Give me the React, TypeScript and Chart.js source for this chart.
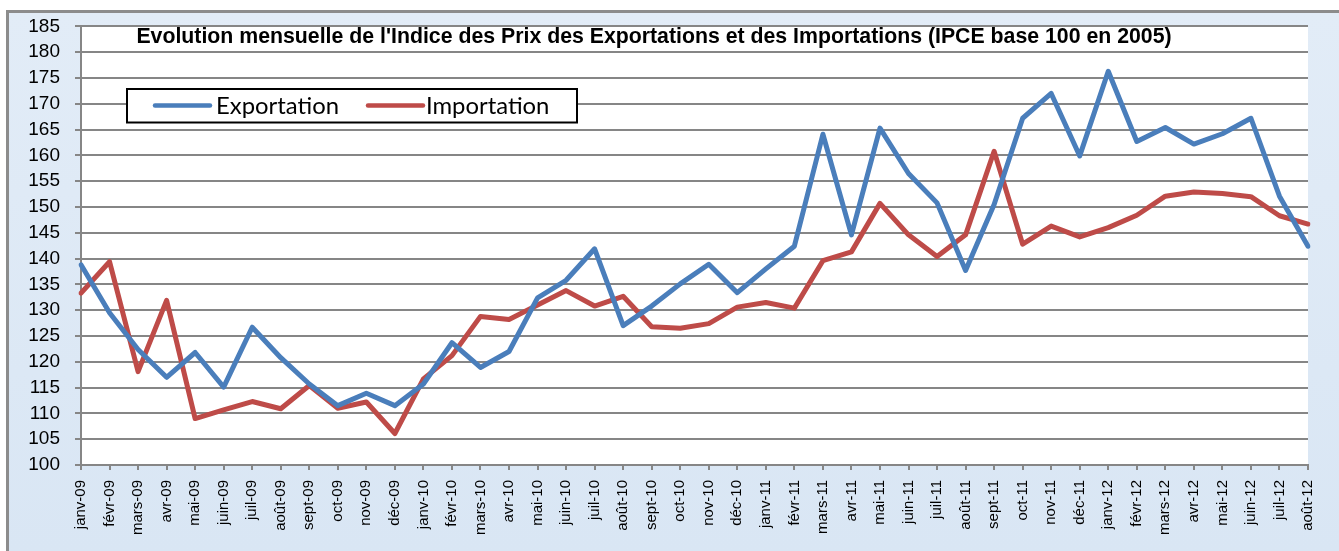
import React, { useEffect, useRef } from 'react';
import { Chart, registerables } from 'chart.js';

Chart.register(...registerables);

const categories = [
  'janv-09', 'févr-09', 'mars-09', 'avr-09', 'mai-09', 'juin-09', 'juil-09', 'août-09', 'sept-09', 'oct-09', 'nov-09', 'déc-09',
  'janv-10', 'févr-10', 'mars-10', 'avr-10', 'mai-10', 'juin-10', 'juil-10', 'août-10', 'sept-10', 'oct-10', 'nov-10', 'déc-10',
  'janv-11', 'févr-11', 'mars-11', 'avr-11', 'mai-11', 'juin-11', 'juil-11', 'août-11', 'sept-11', 'oct-11', 'nov-11', 'déc-11',
  'janv-12', 'févr-12', 'mars-12', 'avr-12', 'mai-12', 'juin-12', 'juil-12', 'août-12',
];

const exportation = [
  138.8, 129.5, 122.4, 117.0, 121.8, 115.1, 126.7, 120.8, 115.7, 111.5, 113.9, 111.5,
  115.7, 123.7, 118.9, 122.0, 132.4, 135.8, 141.9, 127.0, 130.8, 135.1, 138.9, 133.4,
  138.0, 142.4, 164.1, 144.6, 165.3, 156.5, 150.8, 137.7, 150.5, 167.2, 172.0, 159.9,
  176.3, 162.7, 165.4, 162.2, 164.2, 167.2, 152.1, 142.4,
];

const importation = [
  133.3, 139.4, 118.1, 131.9, 109.0, 110.7, 112.3, 110.9, 115.4, 111.0, 112.2, 106.1,
  116.7, 121.2, 128.8, 128.2, 131.0, 133.8, 130.8, 132.7, 126.8, 126.5, 127.4, 130.6,
  131.5, 130.4, 139.6, 141.3, 150.7, 144.6, 140.4, 144.6, 160.8, 142.8, 146.3, 144.2,
  146.0, 148.4, 152.1, 152.9, 152.6, 152.0, 148.3, 146.7,
];

const seriesNames = ['Exportation', 'Importation'];
const seriesColors = ['#4a7ebb', '#be4b48'];
const titleText = "Evolution mensuelle de l'Indice des Prix des Exportations et des Importations (IPCE base 100 en 2005)";

const W = 1339;
const H = 551;
const GRID = '#868686';

function fitSize(ctx: CanvasRenderingContext2D, text: string, weight: string, family: string, target: number) {
  ctx.font = `${weight} 100px ${family}`;
  const w = ctx.measureText(text).width;
  return (100 * target) / w;
}

const backgroundPlugin = {
  id: 'bgPlugin',
  beforeDraw(chart: any) {
    const { ctx, chartArea } = chart;
    ctx.save();
    ctx.fillStyle = '#ffffff';
    ctx.fillRect(0, 0, W, H);
    ctx.fillStyle = '#8c8c8c';
    ctx.fillRect(6, 10, W - 6, H - 10);
    const g = ctx.createLinearGradient(0, 13, 0, H);
    g.addColorStop(0, '#e2ecf7');
    g.addColorStop(1, '#d9e6f4');
    ctx.fillStyle = g;
    ctx.fillRect(9, 13, W - 9, H - 13);
    ctx.fillStyle = '#ffffff';
    ctx.fillRect(chartArea.left, chartArea.top, chartArea.right - chartArea.left, chartArea.bottom - chartArea.top);
    ctx.restore();
  },
};

const overlayPlugin = {
  id: 'overlayPlugin',
  afterDraw(chart: any) {
    const { ctx } = chart;
    ctx.save();
    // title
    const tFamily = "'Liberation Sans', Arial, sans-serif";
    const tSize = fitSize(ctx, titleText, 'bold', tFamily, 1036);
    ctx.font = `bold ${tSize}px ${tFamily}`;
    ctx.fillStyle = '#000000';
    ctx.textAlign = 'center';
    ctx.textBaseline = 'alphabetic';
    ctx.fillText(titleText, 654, 43);

    // legend box
    ctx.fillStyle = '#ffffff';
    ctx.fillRect(127, 89, 450, 33.5);
    ctx.strokeStyle = '#000000';
    ctx.lineWidth = 2;
    ctx.strokeRect(127, 89, 450, 33.5);

    const lFamily = "Lato, 'Open Sans', sans-serif";
    const lSize = fitSize(ctx, seriesNames[0], 'normal', lFamily, 123);
    ctx.font = `${lSize}px ${lFamily}`;
    ctx.textAlign = 'left';
    const items = [
      { x0: 155, x1: 210, tx: 216 },
      { x0: 368, x1: 423, tx: 426 },
    ];
    items.forEach((it, i) => {
      ctx.strokeStyle = seriesColors[i];
      ctx.lineWidth = 4.5;
      ctx.lineCap = 'round';
      ctx.beginPath();
      ctx.moveTo(it.x0, 105.5);
      ctx.lineTo(it.x1, 105.5);
      ctx.stroke();
      ctx.fillStyle = '#000000';
      ctx.fillText(seriesNames[i], it.tx, 114);
    });
    ctx.restore();
  },
};

export default function App() {
  const ref = useRef<HTMLCanvasElement | null>(null);

  useEffect(() => {
    if (!ref.current) return;
    const chart = new Chart(ref.current, {
      type: 'line',
      data: {
        labels: categories,
        datasets: [
          {
            label: seriesNames[0],
            data: exportation,
            borderColor: seriesColors[0],
            backgroundColor: seriesColors[0],
            borderWidth: 5,
            pointRadius: 0,
            tension: 0,
            borderJoinStyle: 'round',
            borderCapStyle: 'round',
          },
          {
            label: seriesNames[1],
            data: importation,
            borderColor: seriesColors[1],
            backgroundColor: seriesColors[1],
            borderWidth: 5,
            pointRadius: 0,
            tension: 0,
            borderJoinStyle: 'round',
            borderCapStyle: 'round',
          },
        ],
      },
      options: {
        responsive: false,
        animation: false,
        devicePixelRatio: 1,
        layout: { padding: { left: 0, right: 31, top: 22.5, bottom: 0 } },
        plugins: {
          legend: { display: false },
          title: { display: false },
          tooltip: { enabled: false },
        },
        scales: {
          x: {
            offset: false,
            grid: {
              drawOnChartArea: false,
              drawTicks: true,
              tickLength: 5,
              color: GRID,
              lineWidth: 2,
            },
            border: { display: true, color: GRID, width: 2 },
            ticks: {
              autoSkip: false,
              maxRotation: 90,
              minRotation: 90,
              padding: 10,
              color: '#000000',
              font: { family: "'Liberation Sans', Arial, sans-serif", size: 15 },
            },
            afterFit(scale: any) {
              scale.height = 86;
            },
          },
          y: {
            min: 100,
            max: 185,
            grid: {
              color: GRID,
              lineWidth: 2,
              drawTicks: true,
              tickLength: 6,
            },
            border: { display: true, color: GRID, width: 2 },
            ticks: {
              stepSize: 5,
              padding: 15,
              color: '#000000',
              font: { family: "'Liberation Sans', Arial, sans-serif", size: 19 },
            },
            afterFit(scale: any) {
              scale.width = 81;
            },
          },
        },
      },
      plugins: [backgroundPlugin, overlayPlugin],
    } as any);
    return () => chart.destroy();
  }, []);

  return (
    <div style={{ position: 'fixed', left: 0, top: 0, width: W, height: H }}>
      <canvas ref={ref} width={W} height={H} style={{ display: 'block', width: W, height: H }} />
    </div>
  );
}
